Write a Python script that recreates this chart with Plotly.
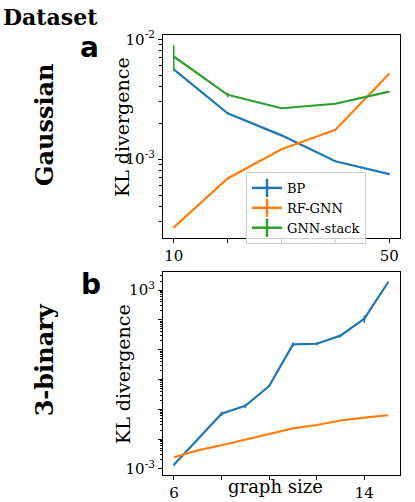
import plotly.graph_objects as go

# Gaussian dataset (panel a)
x_gauss = [10, 20, 30, 40, 50]
bp_gauss = [5.6e-3, 2.41e-3, 1.58e-3, 9.6e-4, 7.5e-4]
bp_gauss_err = [1e-4, 5e-5, 2e-5, 1e-5, 1e-5]
rf_gauss = [2.7e-4, 6.9e-4, 1.21e-3, 1.76e-3, 5.16e-3]
rf_gauss_err = [5e-6, 1e-5, 1e-5, 2e-5, 5e-5]
gnn_gauss = [7.18e-3, 3.44e-3, 2.66e-3, 2.9e-3, 3.66e-3]
gnn_gauss_err = [1.7e-3, 1.5e-4, 3e-5, 3e-5, 3e-5]

# 3-binary dataset (panel b)
x_bin = [6, 7, 8, 9, 10, 11, 12, 13, 14, 15]
bp_bin = [1.38e-3, 9.6e-3, 0.071, 0.13, 0.605, 15.0, 15.8, 29.6, 110, 1830]
bp_bin_err = [1e-4, 5e-4, 0.011, 0.02, 0.03, 2.5, 2.0, 4.0, 30, 100]
rf_bin = [2.47e-3, 4.19e-3, 6.2e-3, 9.6e-3, 0.0151, 0.023, 0.0297, 0.042, 0.0527, 0.063]

names = ["BP", "RF-GNN", "GNN-stack"]
colors = ["#1f77b4", "#ff7f0e", "#2ca02c"]

W, H = 415, 502
SERIF = "DejaVu Serif"


def px(x):
    return x / W


def py(y):
    return 1 - y / H


def line_trace(x, y, err, color, xa, ya):
    return go.Scatter(
        x=x, y=y, mode="lines", showlegend=False,
        line=dict(color=color, width=2.2),
        error_y=dict(type="data", array=err, color=color, thickness=1.6, width=0),
        xaxis=xa, yaxis=ya, hoverinfo="x+y",
    )


fig = go.Figure()

fig.add_trace(line_trace(x_gauss, bp_gauss, bp_gauss_err, colors[0], "x", "y"))
fig.add_trace(line_trace(x_gauss, rf_gauss, rf_gauss_err, colors[1], "x", "y"))
fig.add_trace(line_trace(x_gauss, gnn_gauss, gnn_gauss_err, colors[2], "x", "y"))

fig.add_trace(line_trace(x_bin, bp_bin, bp_bin_err, colors[0], "x2", "y2"))
fig.add_trace(line_trace(x_bin, rf_bin, [0] * len(rf_bin), colors[1], "x2", "y2"))

# legend entries drawn as errorbar "+" symbols
for name, c in zip(names, colors):
    fig.add_trace(go.Scatter(
        x=[None], y=[None], mode="lines+markers", name=name,
        line=dict(color=c, width=2.5),
        marker=dict(symbol="line-ns", size=13, line=dict(color=c, width=2.5)),
        xaxis="x", yaxis="y",
    ))

axis_common = dict(
    showline=True, mirror=True, linecolor="black", linewidth=1.2,
    ticks="outside", ticklen=4, tickcolor="black", tickwidth=1,
    showgrid=False, zeroline=False,
    tickfont=dict(family=SERIF, size=15, color="black"),
)

minor_a = [k * 1e-4 for k in range(3, 10)] + [k * 1e-3 for k in range(2, 10)]
minor_b = [k * 10.0 ** e for e in range(-3, 4) for k in range(2, 10) if k * 10.0 ** e < 3.5e3]
decades_b = [10.0 ** e for e in range(-3, 4)]

fig.update_layout(
    width=W, height=H,
    margin=dict(l=0, r=0, t=0, b=0),
    paper_bgcolor="white", plot_bgcolor="white",
    xaxis=dict(axis_common, domain=[px(163), px(400)], range=[8, 52],
               tickvals=[10, 20, 30, 40, 50], ticktext=["10", "", "", "", "50"],
               anchor="y"),
    yaxis=dict(axis_common, domain=[py(237), py(29)], type="log", range=[-3.66, -1.967],
               tickvals=[1e-3, 1e-2], ticktext=["10<sup>-3</sup>", "10<sup>-2</sup>"],
               minor=dict(tickvals=minor_a, ticks="outside", ticklen=2.5, tickcolor="black"),
               anchor="x"),
    xaxis2=dict(axis_common, domain=[px(163), px(400)], range=[5.54, 15.5],
                tickvals=[6, 8, 10, 12, 14], ticktext=["6", "", "", "", "14"],
                anchor="y2"),
    yaxis2=dict(axis_common, domain=[py(479), py(272)], type="log", range=[-3.19, 3.59],
                tickvals=decades_b,
                ticktext=["10<sup>-3</sup>", "", "", "", "", "", "10<sup>3</sup>"],
                minor=dict(tickvals=minor_b, ticks="outside", ticklen=2, tickcolor="black"),
                anchor="x2"),
    legend=dict(
        x=px(246), y=py(169), xanchor="left", yanchor="top",
        bgcolor="rgba(255,255,255,0.8)", bordercolor="#cccccc", borderwidth=1,
        font=dict(family=SERIF, size=13, color="black"),
        tracegroupgap=0, itemwidth=30,
    ),
    showlegend=True,
)

texts = [
    ("Dataset", 50, 10, 0, dict(family=SERIF, size=22, color="black", weight="bold")),
    ("a", 89, 42, 0, dict(family="DejaVu Sans", size=28, color="black", weight="bold")),
    ("b", 91, 284, 0, dict(family="DejaVu Sans", size=28, color="black", weight="bold")),
    ("Gaussian", 44, 121, -90, dict(family=SERIF, size=24, color="black", weight="bold")),
    ("3-binary", 44, 362, -90, dict(family=SERIF, size=24, color="black", weight="bold")),
    ("KL divergence", 122, 123, -90, dict(family=SERIF, size=19, color="black")),
    ("KL divergence", 123, 376, -90, dict(family=SERIF, size=19, color="black")),
    ("graph size", 275, 491, 0, dict(family=SERIF, size=18, color="black")),
]
for t, x, y, ang, font in texts:
    fig.add_annotation(
        text=t, x=px(x), y=py(y), xref="paper", yref="paper",
        xanchor="center", yanchor="middle", showarrow=False,
        textangle=ang, font=font,
    )

# page has a default 8px body margin; remove it so the figure fills the window
fig.write_html("out.html", config={"displayModeBar": False},
               post_script="document.body.style.margin='0';")
